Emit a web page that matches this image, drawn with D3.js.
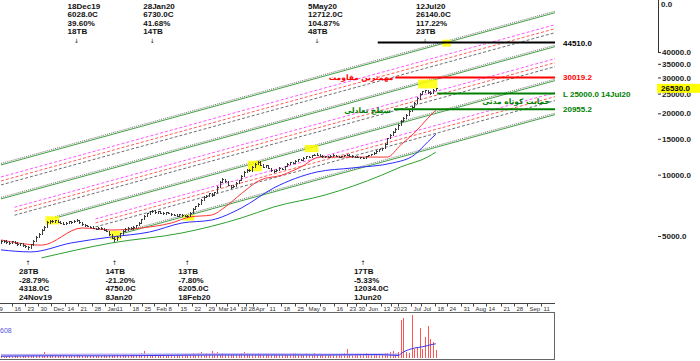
<!DOCTYPE html>
<html>
<head>
<meta charset="utf-8">
<script src="https://cdn.jsdelivr.net/npm/d3@7"></script>
<style>
body { margin: 0; background: #fff; }
svg { display: block; font-family: "Liberation Sans", Arial, sans-serif; }
</style>
</head>
<body>
<script>
// daily bars, 9 Nov 2019 .. 18 Jul 2020 (trading days)
var closes = [4700,4750,4680,4620,4700,4640,4560,4600,4520,4450,4400,
  4550,4750,4950,5100,5350,5550,
  5850,5950,5900,5980,5870,5800,5750,5820,5900,5860,5930,5980,
  5850,5700,5650,5600,5550,5480,5420,5500,5450,5380,5300,5100,4900,4820,
  4950,5150,5300,5400,5500,5450,5550,5650,5800,6050,6300,6450,6600,6650,
  6550,6600,6500,6450,6550,6500,6400,6350,6300,6400,6320,6280,6300,
  6500,6800,7000,7200,7500,7800,7900,8100,7950,8200,8700,9200,9500,9300,8900,8700,8800,9100,9400,
  9900,10300,10600,10500,10900,11300,11600,11200,10900,11100,10800,10500,10400,10600,10800,10700,11000,
  11300,11500,11400,11700,11900,11800,12100,12300,12200,12450,12500,12550,
  12400,12300,12350,12250,12400,12500,12350,12200,12300,12450,12550,12400,12300,12250,12200,12150,12100,
  12300,12450,12600,12800,13100,13300,13500,14200,15100,15700,16200,16800,17500,18300,18900,19600,
  20500,21500,22600,23700,24800,25600,25900,25500,25300,26000,26530];
var highs = [4780,4800,4760,4700,4740,4720,4650,4640,4620,4540,4480,
  4580,4790,4980,5160,5390,5600,
  5900,6000,5990,6010,5990,5900,5830,5860,5940,5920,5970,6028,
  5990,5860,5720,5680,5620,5570,5500,5530,5520,5460,5400,5310,5110,4920,
  4990,5180,5340,5450,5540,5530,5590,5690,5840,6090,6340,6500,6650,6730,
  6680,6640,6620,6530,6590,6580,6520,6430,6380,6430,6420,6350,6330,
  6540,6840,7050,7260,7560,7860,7980,8170,8130,8260,8760,9280,9600,9540,9320,8930,8860,9160,9460,
  9960,10380,10680,10650,10980,11380,11700,11620,11230,11170,11120,10830,10540,10660,10870,10840,11060,
  11370,11580,11530,11760,11980,11930,12170,12380,12330,12520,12590,12712,
  12600,12440,12410,12380,12450,12560,12520,12370,12350,12500,12620,12570,12430,12330,12280,12230,12180,
  12350,12500,12660,12870,13180,13380,13590,14300,15200,15820,16350,16950,17650,18450,19100,19800,
  20700,21750,22850,23950,25050,25850,26140,26000,25700,26200,26700];
var lows = [4640,4680,4640,4580,4600,4600,4520,4530,4480,4400,4318,
  4390,4540,4740,4930,5090,5330,
  5540,5820,5860,5880,5840,5760,5700,5730,5810,5820,5850,5910,
  5820,5680,5610,5570,5510,5450,5390,5410,5420,5350,5270,5080,4870,4750,
  4800,4940,5130,5280,5380,5420,5440,5530,5640,5790,6030,6280,6430,6570,
  6520,6520,6470,6410,6430,6460,6370,6320,6260,6290,6290,6240,6205,
  6290,6490,6790,6990,7190,7480,7780,7880,7900,7930,8190,8690,9180,9250,8850,8640,8670,8780,9080,
  9380,9880,10280,10440,10480,10880,11280,11150,10850,10880,10760,10440,10350,10380,10580,10650,10680,
  10980,11280,11350,11380,11680,11750,11780,12080,12150,12180,12420,12480,
  12360,12250,12270,12200,12230,12380,12300,12150,12170,12280,12430,12360,12260,12200,12150,12100,12034,
  12080,12280,12430,12580,12780,13080,13280,13480,14180,15080,15680,16180,16780,17480,18250,18880,
  19580,20450,21450,22550,23650,24750,25500,25300,25000,25250,25900];
var volumes = [4,3,5,4,3,6,4,3,5,4,6,5,7,9,8,10,14,9,8,7,
  6,5,7,6,5,4,6,5,7,6,5,4,5,4,6,5,4,5,6,4,
  7,8,9,6,5,7,6,5,6,8,7,9,12,16,10,8,9,7,6,5,
  6,5,7,6,5,8,7,9,8,7,10,12,9,11,14,10,12,9,16,11,
  13,10,12,9,8,7,9,8,10,11,13,12,10,9,8,11,9,8,7,6,
  7,6,8,7,9,8,10,9,11,12,10,9,8,11,10,9,12,10,8,7,
  8,9,7,6,8,10,9,12,21,8,7,9,8,10,9,11,8,7,9,8,
  10,9,12,11,14,16,10,14,88,93,15,12,100,20,25,70,22,49,74,44,37,18];

// moving averages (bar index, price)
var redIdx = [0,15,30,41,52,63,70,78,83,89,96,104,111,118,126,133,143,148,153,158,161];
var redVal = [4781,4508,5475,5352,5475,5790,6200,6337,6942,8070,9411,9948,10900,12200,12200,12200,12200,14000,16000,18900,20776];
var blueIdx = [0,11,26,41,55,67,78,89,101,117,130,145,153,158,161];
var blueVal = [4274,4177,4623,4948,5232,5791,5991,6863,8605,10309,10785,11413,12488,14471,15800];
var greenIdx = [15,41,67,89,101,120,141,148,158,161];
var greenVal = [3904,4623,5175,6130,6942,7946,9948,10909,12213,12900];
var volMaIdx = [0,20,40,60,80,100,120,140,147,149,153,156,160,161];
var volMaVal = [4,5,5,6,7,7,7,8,6,14,23,26,32,33];
var volMa2Idx = [0,40,80,120,147];
var volMa2Val = [7,8,9,8,8];

// channel lines: price at bar 0 and at right edge
var greenStart = [11160,7602,5179,3528];
var greenEnd = [62560,42616,29030,19775];
var greenFrom = [0,0,20,45];
var pinkStart = [9743,6637,4521];
var pinkEnd = [54615,37204,25343];
var redStart = [9314,6345,4322];
var redEnd = [52213,35568,24228];
var grayStart = [8905,6066,4132];
var grayEnd = [49917,34004,23163];
var groupFrom = [0,5,35];

// horizontal levels
var levels = [44510, 30019.2, 25000, 20955.2];
var levelFrom = [139.5, 146, 161.5, 145.5];
var levelLabels = ["44510.0", "30019.2", "L 25000.0 14Jul20", "20955.2"];
var levelColors = ["#000", "#ff0000", "#008000", "#008000"];
var notes = ["مهمترین مقاومت", "سطح تعادلی", "حمایت کوتاه مدتی"];

// highlighted zones
var hlFrom = [17,41,68,92,113,155,164];
var hlTo = [21,44,71,96,117,161,166];
var hlHi = [6250,5300,6350,11700,14000,29300,46000];
var hlLo = [5700,4800,5950,10400,12900,26500,42500];

// swing annotations
var peakBars = [28,56,117,157];
var peakDates = ["18Dec19","28Jan20","5May20","12Jul20"];
var peakPrices = ["6028.0C","6730.0C","12712.0C","26140.0C"];
var peakPct = ["39.60%","41.68%","104.87%","117.22%"];
var peakTB = ["18TB","14TB","48TB","23TB"];
var troughBars = [10,42,69,134];
var troughDates = ["24Nov19","8Jan20","18Feb20","1Jun20"];
var troughPrices = ["4318.0C","4750.0C","6205.0C","12034.0C"];
var troughPct = ["-28.79%","-21.20%","-7.80%","-5.33%"];
var troughTB = ["28TB","14TB","13TB","17TB"];

var yTicks = [40000,35000,30000,25000,20000,15000,10000,5000];
var tickLabels = ["9","16","23","30","Dec","14","21","28","Jan","11","18","25","Feb","8","15","22","29",
  "Mar","14","18","28","Apr","11","18","25","May","9","16","23","30","Jun","13","20","23","Jul","Jul",
  "18","24","31","Aug","14","21","28","Sep","11"];
var tickIdx = [-1.5,4.1,8.9,13.7,18.5,23.7,28.5,33.7,38.5,41.9,47.8,52.2,56.7,61.1,65.6,70.7,75.9,
  79.6,83.7,87.8,90.7,93.3,98.5,103.7,108.9,113,118.1,123.3,128.1,131.5,135.2,140.7,144.4,147,151.9,155.6,
  160.7,165.2,170.4,174.8,179.6,185.2,190,194.8,200];
var lastPrice = 26530;

var width = 700, height = 361;
var lastBar = 205.5;

var svg = d3.select("body").append("svg")
  .attr("width", width)
  .attr("height", height);

var x = d3.scaleLinear().domain([0, lastBar]).range([1, 556]);
var y = d3.scaleLog().domain([5000, 40000]).range([236, 52]);
var yV = d3.scaleLinear().domain([0, 100]).range([358, 315]);

svg.append("clipPath").attr("id", "pc")
  .append("rect").attr("x", 0).attr("y", 0).attr("width", 555).attr("height", 300);

var g = svg.append("g").attr("clip-path", "url(#pc)");

var line = d3.line().x((d) => x(d[0])).y((d) => y(d[1]));
function chan(a, b, from) {
  var p = a * Math.pow(b / a, from / lastBar);
  return [[from, p], [lastBar, b]];
}

// channel: dashed groups
function dashed(starts, ends, color) {
  starts.forEach((a, i) => {
    g.append("path")
      .attr("d", line(chan(a, ends[i], groupFrom[i])))
      .attr("fill", "none")
      .attr("stroke", color)
      .attr("stroke-width", 1)
      .attr("stroke-dasharray", "3,2");
  });
}
dashed(pinkStart, pinkEnd, "#ff55ff");
dashed(redStart, redEnd, "#ff5a5a");
dashed(grayStart, grayEnd, "#6e6e6e");

greenStart.forEach((a, i) => {
  var pts = chan(a, greenEnd[i], greenFrom[i]);
  g.append("path")
    .attr("d", line(pts))
    .attr("fill", "none")
    .attr("stroke", "#44a044")
    .attr("stroke-width", 1);
  g.append("path")
    .attr("d", line(pts))
    .attr("transform", "translate(0,-1.5)")
    .attr("fill", "none")
    .attr("stroke", "#777")
    .attr("stroke-width", 1)
    .attr("stroke-dasharray", "1,1");
});

// highlights
hlFrom.forEach((f, i) => {
  g.append("rect")
    .attr("x", x(f) - 1.5)
    .attr("y", y(hlHi[i]))
    .attr("width", x(hlTo[i]) - x(f) + 3)
    .attr("height", y(hlLo[i]) - y(hlHi[i]))
    .attr("fill", "#ffff00")
    .attr("opacity", 0.85);
});

// moving averages
var maLine = d3.line().x((d) => x(d[0])).y((d) => y(d[1])).curve(d3.curveMonotoneX);
[[redIdx, redVal, "#ff3333"], [blueIdx, blueVal, "#2a2aff"], [greenIdx, greenVal, "#2ca02c"]].forEach((m) => {
  g.append("path")
    .attr("d", maLine(m[0].map((d, i) => [d, m[1][i]])))
    .attr("fill", "none")
    .attr("stroke", m[2])
    .attr("stroke-width", 1);
});

// price bars
var bars = g.append("g").attr("stroke", "#3a3a3a").attr("stroke-width", 1).attr("shape-rendering", "crispEdges");
closes.forEach((c, i) => {
  var cx = Math.round(x(i)) + 0.5;
  var o = i > 0 ? closes[i - 1] : c;
  bars.append("line").attr("x1", cx).attr("x2", cx).attr("y1", y(highs[i])).attr("y2", y(lows[i]) + 1);
  bars.append("line").attr("x1", cx - 1).attr("x2", cx).attr("y1", Math.round(y(o)) + 0.5).attr("y2", Math.round(y(o)) + 0.5);
  bars.append("line").attr("x1", cx).attr("x2", cx + 1.5).attr("y1", Math.round(y(c)) + 0.5).attr("y2", Math.round(y(c)) + 0.5);
});

// horizontal levels
levels.forEach((v, i) => {
  svg.append("line")
    .attr("x1", x(levelFrom[i])).attr("x2", 555)
    .attr("y1", y(v)).attr("y2", y(v))
    .attr("stroke", levelColors[i])
    .attr("stroke-width", 2);
  svg.append("text")
    .attr("x", 563).attr("y", y(v) + 3)
    .attr("font-size", "8px").attr("font-weight", "bold")
    .attr("fill", levelColors[i])
    .text(levelLabels[i]);
});

// persian notes
var noteStyle = (t) => t.attr("font-family", "'DejaVu Sans', 'Noto Sans', sans-serif")
  .attr("font-size", "7.5px").attr("font-weight", "bold").attr("text-anchor", "end");
svg.append("text").call(noteStyle)
  .attr("x", x(levelFrom[1]) - 2).attr("y", y(levels[1]) + 3)
  .attr("fill", "#ff0000").text(notes[0]);
svg.append("text").call(noteStyle)
  .attr("x", x(levelFrom[3]) - 3).attr("y", y(levels[3]) + 4)
  .attr("fill", "#008000").text(notes[1]);
svg.append("text").call(noteStyle)
  .attr("x", 550).attr("y", y(levels[2]) + 10)
  .attr("fill", "#008000").text(notes[2]);

// swing annotations
function annot(bars, rows, top) {
  bars.forEach((b, i) => {
    var tx = x(b) - 9;
    rows.forEach((r, k) => {
      svg.append("text")
        .attr("x", tx)
        .attr("y", top ? 8.5 + k * 8.6 : 274 + k * 8.6)
        .attr("font-size", "8px").attr("font-weight", "bold")
        .attr("fill", "#111")
        .text(r[i]);
    });
    svg.append("text")
      .attr("x", x(b)).attr("y", top ? 42.5 : 265)
      .attr("text-anchor", "middle")
      .attr("font-family", "'DejaVu Sans', sans-serif")
      .attr("font-size", "6px").attr("fill", "#111")
      .text(top ? "↓" : "↑");
  });
}
annot(peakBars, [peakDates, peakPrices, peakPct, peakTB], true);
annot(troughBars, [troughTB, troughPct, troughPrices, troughDates], false);

// right price axis
svg.append("line")
  .attr("x1", 658.5).attr("x2", 658.5).attr("y1", 0).attr("y2", 52)
  .attr("stroke", "#333");
var yAxis = d3.axisRight(y).tickValues(yTicks).tickFormat(d3.format(".1f")).tickSize(3).tickPadding(1);
var ya = svg.append("g").attr("transform", "translate(658,0)").call(yAxis);
ya.select(".domain").remove();
ya.selectAll("text").attr("font-size", "8px").attr("font-weight", "bold").attr("fill", "#222")
  .attr("font-family", "'Liberation Sans', Arial, sans-serif");
ya.selectAll("line").attr("stroke", "#333");
svg.append("text").attr("x", 661).attr("y", 7).attr("font-size", "8px").attr("font-weight", "bold")
  .attr("fill", "#222").text("0.0");

// last price tag
svg.append("rect").attr("x", 657).attr("y", y(lastPrice) - 4.5).attr("width", 43).attr("height", 9)
  .attr("fill", "#ffff00");
svg.append("text").attr("x", 661).attr("y", y(lastPrice) + 3)
  .attr("font-size", "8px").attr("font-weight", "bold").attr("fill", "#000")
  .text(d3.format(".1f")(lastPrice));

// date axis
svg.append("line").attr("x1", 0).attr("x2", 555).attr("y1", 303.5).attr("y2", 303.5)
  .attr("stroke", "#444");
tickIdx.forEach((t, i) => {
  var tx = Math.round(x(t)) + 0.5;
  svg.append("line").attr("x1", tx).attr("x2", tx).attr("y1", 303.5).attr("y2", 306.5)
    .attr("stroke", "#444");
  svg.append("text").attr("x", tx + 2).attr("y", 310.5)
    .attr("font-size", "6px").attr("fill", "#333")
    .text(tickLabels[i]);
});

// volume panel
svg.append("rect").attr("x", -1).attr("y", 312.5).attr("width", 555.5).attr("height", 47)
  .attr("fill", "none").attr("stroke", "#666");
var vb = svg.append("g").attr("shape-rendering", "crispEdges");
volumes.forEach((v, i) => {
  var vx = Math.round(x(i)) + 0.5;
  vb.append("line").attr("x1", vx).attr("x2", vx).attr("y1", yV(0)).attr("y2", yV(v))
    .attr("stroke", "#ff5555");
});
var vLine = d3.line().x((d) => x(d[0])).y((d) => yV(d[1])).curve(d3.curveMonotoneX);
svg.append("path").attr("d", vLine(volMa2Idx.map((d, i) => [d, volMa2Val[i]])))
  .attr("fill", "none").attr("stroke", "#b8b0f0").attr("stroke-width", 2);
svg.append("path").attr("d", vLine(volMaIdx.map((d, i) => [d, volMaVal[i]])))
  .attr("fill", "none").attr("stroke", "#3333ee").attr("stroke-width", 1);
svg.append("text").attr("x", 0).attr("y", 333).attr("font-size", "7px").attr("fill", "#5555dd")
  .text("608");
</script>
</body>
</html>
